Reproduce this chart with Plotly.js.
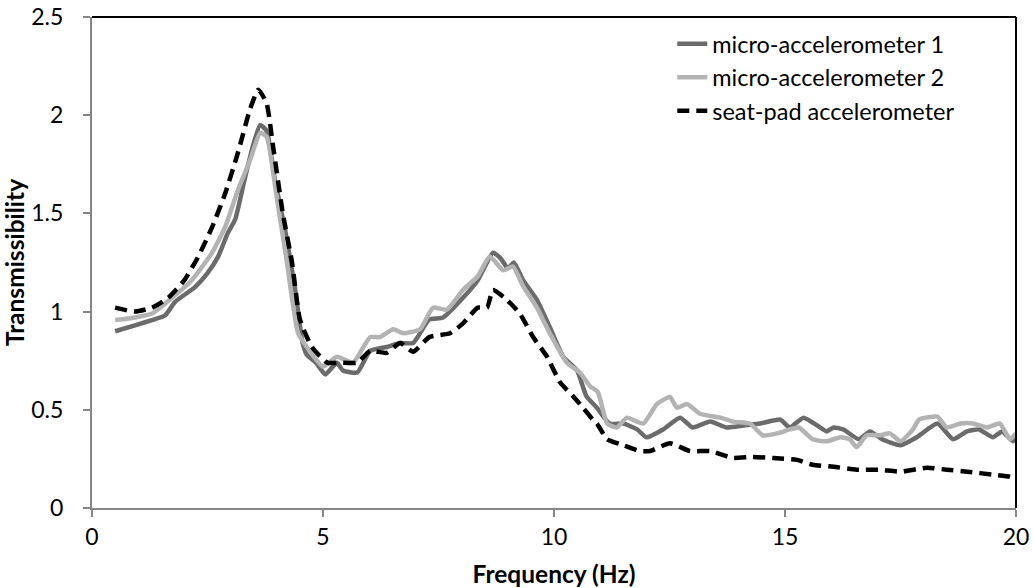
<!DOCTYPE html>
<html>
<head>
<meta charset="utf-8">
<script src="https://cdn.plot.ly/plotly-3.0.1.min.js"></script>
<style>html,body{margin:0;padding:0;background:#fff;}#chart{width:1033px;height:588px;}</style>
</head>
<body>
<div id="chart"></div>
<script>
// Series names
const seriesNames = ["micro-accelerometer 1", "micro-accelerometer 2", "seat-pad accelerometer"];

// micro-accelerometer 1 (dark grey)
const mic1Freq = [0.5,0.93,1.3,1.58,1.8,2.23,2.5,2.73,2.94,3.1,3.3,3.48,3.64,3.78,3.96,4.18,4.39,4.55,4.65,4.85,5.05,5.3,5.43,5.74,6.02,6.38,6.67,6.95,7.3,7.6,8.03,8.35,8.68,8.85,9.0,9.13,9.33,9.63,9.91,10.2,10.5,10.7,10.93,11.2,11.5,11.8,12.0,12.36,12.73,13.0,13.38,13.74,14.1,14.46,14.9,15.1,15.4,15.7,15.9,16.05,16.26,16.6,16.84,17.1,17.5,17.85,18.3,18.64,18.94,19.2,19.5,19.7,19.93,20.0];
const mic1Trans = [0.9,0.93,0.957,0.98,1.05,1.125,1.196,1.28,1.4,1.47,1.67,1.84,1.95,1.92,1.67,1.415,1.125,0.85,0.78,0.74,0.68,0.74,0.70,0.69,0.80,0.82,0.84,0.84,0.96,0.97,1.07,1.16,1.30,1.27,1.22,1.25,1.16,1.06,0.92,0.77,0.70,0.57,0.51,0.43,0.43,0.40,0.36,0.40,0.46,0.41,0.44,0.41,0.42,0.43,0.45,0.41,0.46,0.42,0.39,0.41,0.40,0.35,0.39,0.35,0.32,0.36,0.43,0.35,0.39,0.40,0.36,0.39,0.34,0.36];

// micro-accelerometer 2 (light grey)
const mic2Freq = [0.5,0.93,1.3,1.73,2.16,2.6,2.88,3.16,3.42,3.64,3.78,4.0,4.22,4.46,4.65,5.0,5.3,5.65,6.02,6.23,6.52,6.73,7.1,7.38,7.68,8.03,8.35,8.61,8.9,9.11,9.33,9.63,9.91,10.28,10.56,10.78,10.95,11.15,11.36,11.58,11.93,12.23,12.51,12.66,12.88,13.16,13.6,13.87,14.24,14.52,14.83,15.1,15.3,15.6,15.9,16.2,16.4,16.55,16.77,17.06,17.27,17.5,17.77,17.9,18.3,18.5,18.8,19.07,19.37,19.65,19.87,20.0];
const mic2Trans = [0.957,0.97,0.99,1.07,1.16,1.3,1.43,1.62,1.77,1.91,1.89,1.58,1.25,0.89,0.82,0.72,0.77,0.74,0.87,0.87,0.91,0.89,0.91,1.02,1.01,1.11,1.18,1.28,1.21,1.23,1.13,1.02,0.89,0.74,0.69,0.62,0.59,0.43,0.41,0.46,0.43,0.53,0.565,0.51,0.53,0.48,0.46,0.44,0.43,0.37,0.38,0.40,0.41,0.35,0.34,0.36,0.35,0.31,0.37,0.37,0.38,0.34,0.40,0.45,0.465,0.41,0.43,0.43,0.41,0.43,0.35,0.38];

// seat-pad accelerometer (black dashed)
const seatFreq = [0.5,0.93,1.3,1.65,2.0,2.3,2.6,2.88,3.16,3.42,3.6,3.78,3.92,4.13,4.33,4.5,4.76,5.09,5.37,5.74,6.02,6.38,6.67,6.95,7.3,7.75,8.03,8.35,8.55,8.68,8.98,9.26,9.55,9.85,10.13,10.41,10.63,10.84,10.93,11.15,11.5,11.86,12.08,12.51,12.94,13.38,13.87,14.3,14.74,15.26,15.6,16.05,16.55,17.06,17.5,18.07,18.5,18.94,19.5,19.87,20.0];
const seatTrans = [1.02,1.0,1.02,1.07,1.16,1.28,1.43,1.6,1.81,2.03,2.13,2.06,1.84,1.5,1.25,0.96,0.82,0.74,0.74,0.74,0.80,0.79,0.84,0.795,0.87,0.89,0.94,1.02,1.02,1.11,1.06,0.99,0.87,0.77,0.64,0.57,0.51,0.45,0.43,0.35,0.32,0.29,0.29,0.33,0.29,0.29,0.255,0.26,0.255,0.245,0.22,0.21,0.195,0.195,0.185,0.205,0.195,0.185,0.17,0.16,0.15];

const xTickVals = [0,5,10,15,20];
const yTickVals = [0,0.5,1,1.5,2,2.5];

const FONT = "Lato, 'Open Sans', sans-serif";

const traces = [
  {x: mic1Freq, y: mic1Trans, name: seriesNames[0], type: 'scatter', mode: 'lines',
   line: {color: '#6b6b6b', width: 4.5, shape: 'spline', smoothing: 0.5}},
  {x: mic2Freq, y: mic2Trans, name: seriesNames[1], type: 'scatter', mode: 'lines',
   line: {color: '#b3b3b3', width: 4.5, shape: 'spline', smoothing: 0.5}},
  {x: seatFreq, y: seatTrans, name: seriesNames[2], type: 'scatter', mode: 'lines',
   line: {color: '#000000', width: 4.5, dash: '12px,7px', shape: 'spline', smoothing: 0.5}}
];

const layout = {
  width: 1033, height: 588,
  margin: {l: 92, r: 17, t: 17, b: 80},
  paper_bgcolor: '#ffffff', plot_bgcolor: '#ffffff',
  font: {family: FONT, color: '#000000', size: 23},
  showlegend: true,
  legend: {x: 0.628, xanchor: 'left', y: 0.99, yanchor: 'top',
           font: {family: FONT, size: 23.5, color: '#000'}, bgcolor: 'rgba(0,0,0,0)', borderwidth: 0},
  xaxis: {
    range: [0, 20], tickvals: xTickVals, ticktext: xTickVals.map(String),
    showgrid: false, zeroline: false, showline: true, linecolor: '#868686', linewidth: 2,
    ticks: 'outside', ticklen: 7, tickwidth: 2, tickcolor: '#868686',
    tickfont: {family: FONT, size: 23, color: '#000'},
    title: {text: '<b>Frequency (Hz)</b>', font: {family: FONT, size: 24.5, color: '#000'}, standoff: 18}
  },
  yaxis: {
    range: [0, 2.5], tickvals: yTickVals, ticktext: yTickVals.map(String),
    showgrid: false, zeroline: false, showline: true, linecolor: '#868686', linewidth: 2,
    ticks: 'outside', ticklen: 7, tickwidth: 2, tickcolor: '#868686', ticklabelstandoff: 15,
    tickfont: {family: FONT, size: 23, color: '#000'},
    title: {text: '<b>Transmissibility</b>', font: {family: FONT, size: 24.5, color: '#000'}, standoff: 0}
  },
  shapes: [
    {type: 'line', xref: 'paper', yref: 'paper', x0: 0, x1: 1, y0: 1, y1: 1, line: {color: '#000', width: 2}},
    {type: 'line', xref: 'paper', yref: 'paper', x0: 1, x1: 1, y0: 0, y1: 1, line: {color: '#000', width: 2}}
  ]
};

Plotly.newPlot('chart', traces, layout, {displayModeBar: false, staticPlot: true});
</script>
</body>
</html>
